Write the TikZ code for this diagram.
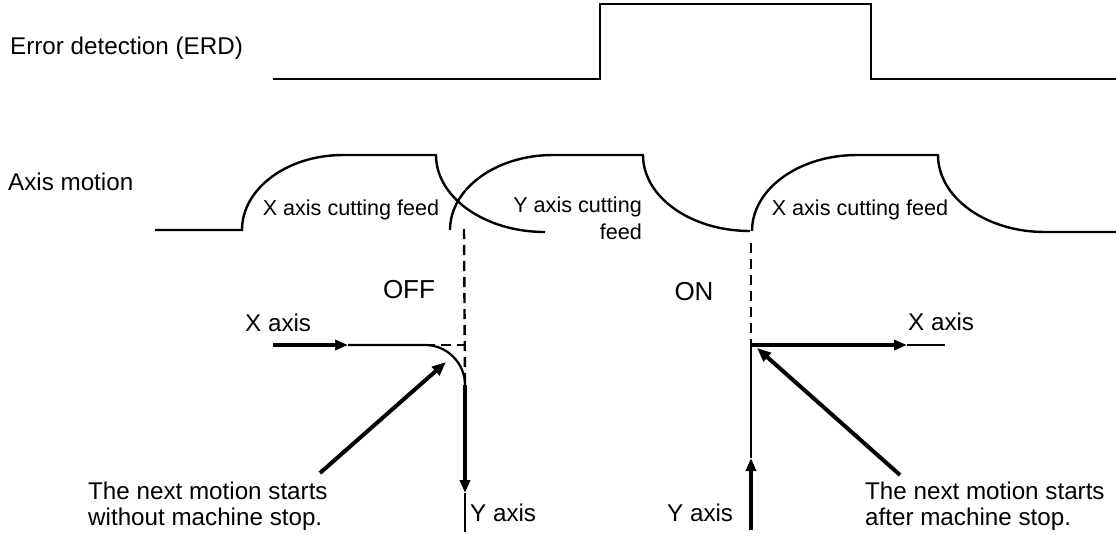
\documentclass[tikz,border=0pt]{standalone}
\usepackage{fontspec}
\setmainfont{Liberation Sans}
\usetikzlibrary{arrows.meta,positioning}
\tikzset{
  sigline/.style={line width=2.4pt, line join=miter},
  thinpath/.style={line width=2.2pt},
  thickpath/.style={line width=4pt, -{Triangle[length=13pt,width=10pt]}},
  guide/.style={line width=2.4pt, dash pattern=on 10pt off 6pt},
  pointer/.style={line width=4pt, -{Triangle[length=14pt,width=11pt]}},
  lbl/.style={inner sep=0pt, font=\fontsize{24.2}{26}\selectfont},
  feedlbl/.style={inner sep=0pt, font=\fontsize{21.6}{27}\selectfont},
  statelbl/.style={inner sep=0pt, font=\fontsize{26}{28}\selectfont}
}

\begin{document}
\begin{tikzpicture}[x=1pt, y=-1pt]
  \useasboundingbox (0,0) rectangle (1116,536);

  % Error detection signal
  \node[lbl, anchor=west] (erd) at (10,48) {Error detection (ERD)};
  \draw[sigline] (273,79) -- (600,79) -- (600,4) -- (871,4) -- (871,79) -- (1116,79);

  % Axis motion: X, Y, X cutting feed
  \node[lbl, anchor=west] (motion) at (8,182) {Axis motion};
  \draw[sigline] (155,230) -- (242,230) .. controls (242,188.6) and (287.2,155) .. (343,155) -- (436,155) .. controls (436,197.5) and (484.8,232) .. (545,232);
  \draw[sigline] (450,230) .. controls (450,188.6) and (496.1,155) .. (553,155) -- (643,155) .. controls (643,197) and (690.9,231) .. (750,231);
  \draw[sigline] (752,231) .. controls (752,189) and (799,155) .. (857,155) -- (938,155) .. controls (938,197.5) and (985.9,232) .. (1045,232) -- (1116,232);
  \node[feedlbl] (xfeed1) at (351,210) {X axis cutting feed};
  \node[feedlbl, anchor=east, align=right] (yfeed) at (642,218) {Y axis cutting\\feed};
  \node[feedlbl] (xfeed2) at (860,210) {X axis cutting feed};

  % OFF: corner without stop
  \node[statelbl] (off) at (409,290) {OFF};
  \node[lbl, anchor=west] (xlab1) at (245,323) {X axis};
  \node[lbl, anchor=west] (ylab1) at (470,513) {Y axis};
  \coordinate (offtop) at (464,229);
  \coordinate (xin) at (273,345);
  \coordinate (xtip) at (348,345);
  \coordinate (bendin) at (425,345);
  \coordinate (corner) at (465,345);
  \coordinate (bendout) at (465,385);
  \coordinate (ytip) at (465,493);
  \coordinate (yout) at (465,532);
  \draw[guide] (offtop) -- (bendout);
  \draw[guide] (bendin) -- (corner);
  \draw[thickpath] (xin) -- (xtip);
  \draw[thinpath] (xtip) -- (bendin) .. controls (447,345) and (465,363) .. (bendout);
  \draw[thickpath] (bendout) -- (ytip);
  \draw[thinpath] (ytip) -- (yout);
  \node[lbl, anchor=west, align=left] (note1) at (88,506) {The next motion starts\\without machine stop.};
  \coordinate (p1) at (320,473);
  \coordinate (p1tip) at (446,362);
  \draw[pointer] (p1) -- (p1tip);

  % ON: corner after stop
  \node[statelbl] (on) at (694,292) {ON};
  \node[lbl, anchor=west] (xlab2) at (908,322) {X axis};
  \node[lbl, anchor=west] (ylab2) at (667,513) {Y axis};
  \coordinate (ontop) at (751,243);
  \coordinate (oncorner) at (751,345);
  \coordinate (xtip2) at (907,345);
  \coordinate (xout2) at (945,345);
  \coordinate (yin2) at (751,530);
  \coordinate (ytip2) at (751,458);
  \draw[guide] (ontop) -- (oncorner);
  \draw[thickpath] (yin2) -- (ytip2);
  \draw[thinpath] (ytip2) -- (oncorner);
  \draw[thickpath] (oncorner) -- (xtip2);
  \draw[thinpath] (xtip2) -- (xout2);
  \node[lbl, anchor=west, align=left] (note2) at (865,506) {The next motion starts\\after machine stop.};
  \coordinate (p2) at (900,475);
  \coordinate (p2tip) at (757,348);
  \draw[pointer] (p2) -- (p2tip);
\end{tikzpicture}
\end{document}
